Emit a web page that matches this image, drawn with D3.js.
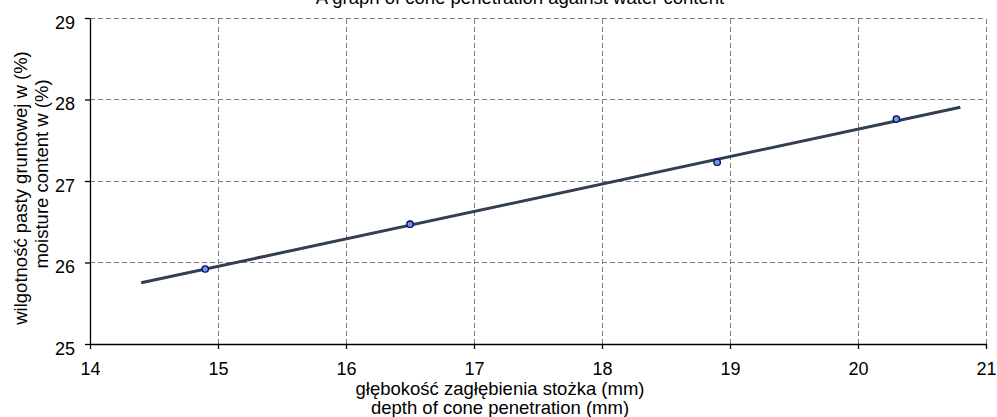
<!DOCTYPE html>
<html>
<head>
<meta charset="utf-8">
<script src="https://cdn.jsdelivr.net/npm/d3@7"></script>
<style>
  html, body { margin: 0; padding: 0; background: #fff; }
  svg { display: block; font-family: "Liberation Sans", Arial, sans-serif; }
</style>
</head>
<body>
<svg id="chart" width="997" height="417"></svg>
<script>
// Measured cone penetration (mm) and matching water content (%)
const depth = [14.9, 16.5, 18.9, 20.3];
const moisture = [25.92, 26.47, 27.23, 27.76];
// Range over which the fitted trend line is drawn
const trendRange = [14.4, 20.8];
const xTicks = [14, 15, 16, 17, 18, 19, 20, 21];
const yTicks = [25, 26, 27, 28, 29];

const titleText = "A graph of cone penetration against water content";
const xTitle = ["głębokość zagłębienia stożka (mm)", "depth of cone penetration (mm)"];
const yTitle = ["wilgotność pasty gruntowej w  (%)", "moisture content w (%)"];

const svg = d3.select("#chart");
const m = { left: 90, right: 11, top: 18, bottom: 73 };
const W = 997, H = 417;

const x = d3.scaleLinear().domain([14, 21]).range([m.left, W - m.right]);
const y = d3.scaleLinear().domain([25, 29]).range([H - m.bottom, m.top]);

// Dashed grid
const grid = svg.append("g").attr("stroke", "#808080").attr("stroke-width", 1)
  .attr("stroke-dasharray", "5,3").attr("shape-rendering", "crispEdges");
grid.selectAll("line.v").data(xTicks.slice(1)).join("line")
  .attr("x1", d => x(d)).attr("x2", d => x(d))
  .attr("y1", y(25)).attr("y2", y(29));
grid.selectAll("line.h").data(yTicks.slice(1)).join("line")
  .attr("x1", x(14)).attr("x2", x(21))
  .attr("y1", d => y(d)).attr("y2", d => y(d));

// Axes
const xAxis = svg.append("g").attr("transform", `translate(0,${y(25)})`)
  .call(d3.axisBottom(x).tickValues(xTicks).tickFormat(d3.format("d")).tickSize(5).tickSizeOuter(0));
const yAxis = svg.append("g").attr("transform", `translate(${x(14)},0)`)
  .call(d3.axisLeft(y).tickValues(yTicks).tickFormat(d3.format("d")).tickSize(5).tickSizeOuter(0));
[xAxis, yAxis].forEach(a => {
  a.select(".domain").attr("stroke", "#000").attr("stroke-width", 1.3);
  a.selectAll(".tick line").attr("stroke", "#000").attr("stroke-width", 1.3);
  a.selectAll(".tick text").attr("fill", "#000").style("font-size", "18px")
    .style("font-family", "'Liberation Sans', Arial, sans-serif");
});
xAxis.selectAll(".tick text").attr("dy", null).attr("y", 31);
yAxis.selectAll(".tick text").attr("x", -15).attr("dy", null).attr("y", 10);

// Least-squares trend line
const mx = d3.mean(depth), my = d3.mean(moisture);
const slope = d3.sum(depth, (d, i) => (d - mx) * (moisture[i] - my)) /
              d3.sum(depth, d => (d - mx) * (d - mx));
const icpt = my - slope * mx;
const trend = trendRange.map(v => [v, icpt + slope * v]);
svg.append("path")
  .datum(trend)
  .attr("d", d3.line().x(d => x(d[0])).y(d => y(d[1])))
  .attr("fill", "none").attr("stroke", "#333f50").attr("stroke-width", 3)
  .attr("stroke-linecap", "butt");

// Data points
svg.append("g").selectAll("circle").data(depth).join("circle")
  .attr("cx", d => x(d)).attr("cy", (d, i) => y(moisture[i])).attr("r", 3.2)
  .attr("fill", "#6f9ad6").attr("stroke", "#000080").attr("stroke-width", 1.3);

// Title
svg.append("text").attr("x", 520).attr("y", 4).attr("text-anchor", "middle")
  .style("font-size", "18.5px").attr("fill", "#000").text(titleText);

// X axis title
svg.append("g").selectAll("text").data(xTitle).join("text")
  .attr("x", 500).attr("y", (d, i) => 395 + i * 19).attr("text-anchor", "middle")
  .style("font-size", "18.5px").attr("fill", "#000").text(d => d);

// Y axis title
const yTitleCenter = [188, 174];
svg.append("g").selectAll("text").data(yTitle).join("text")
  .attr("transform", (d, i) => `translate(${27 + i * 21},${yTitleCenter[i]}) rotate(-90)`)
  .attr("text-anchor", "middle")
  .style("font-size", "18.5px").attr("fill", "#000").text(d => d);
</script>
</body>
</html>
